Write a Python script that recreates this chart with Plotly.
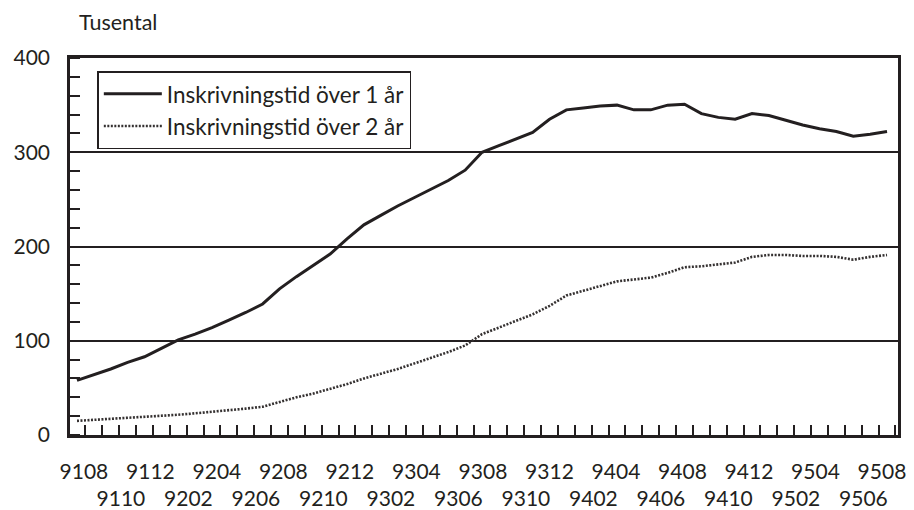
import plotly.graph_objects as go

months = ["9108","9109","9110","9111","9112","9201","9202","9203","9204","9205","9206","9207",
          "9208","9209","9210","9211","9212","9301","9302","9303","9304","9305","9306","9307",
          "9308","9309","9310","9311","9312","9401","9402","9403","9404","9405","9406","9407",
          "9408","9409","9410","9411","9412","9501","9502","9503","9504","9505","9506","9507","9508"]

over_1_ar = [58, 64, 70, 77, 83, 92, 101, 107, 114, 122, 130, 139,
             155, 168, 180, 192, 208, 223, 233, 243, 252, 261, 270, 281,
             300, 307, 314, 321, 335, 345, 347, 349, 350, 345, 345, 350,
             351, 341, 337, 335, 341, 339, 334, 329, 325, 322, 317, 319, 322]

over_2_ar = [15, 16, 17, 18, 19.5, 20.5, 21.5, 23, 24.5, 26, 28, 30,
             35, 40, 44, 49, 54, 60, 65, 70, 76, 82, 88, 95,
             107, 114, 121, 128, 137, 148, 153, 158, 163, 165, 167, 172,
             178, 179, 181, 183, 189, 191, 191, 190, 190, 189, 186, 189, 191]

series_names = ["Inskrivningstid över 1 år", "Inskrivningstid över 2 år"]
y_unit = "Tusental"
y_ticks = [0, 100, 200, 300, 400]

FONT = "Lato"
idx = list(range(len(months)))

fig = go.Figure()
fig.add_trace(go.Scatter(x=idx, y=over_1_ar, mode="lines", name=series_names[0],
                         line=dict(color="#231f20", width=3)))
fig.add_trace(go.Scatter(x=idx, y=over_2_ar, mode="lines", name=series_names[1],
                         line=dict(color="#353131", width=2.6, dash="2px,1.5px")))

# two staggered label rows (every 2nd month); small label-placement offsets as in the original
label_idx = idx[::2]
n_top = len(label_idx[::2])
tickvals, ticktext = [], []
for k, i in enumerate(label_idx):
    if k % 2 == 0:
        j = k // 2
        tickvals.append(i + 0.41 - 0.71 * j / (n_top - 1))
        ticktext.append(months[i])
    else:
        tickvals.append(i + 0.6)
        ticktext.append("<br>" + months[i])

# page body adds an 8px offset; figure is sized/margined to compensate
fig.update_layout(
    width=906, height=502,
    margin=dict(l=62, r=16, t=50, b=75, autoexpand=False),
    paper_bgcolor="white", plot_bgcolor="white",
    font=dict(family=FONT, color="#231f20", size=21),
    showlegend=True,
    legend=dict(x=0.033, y=0.965, xanchor="left", yanchor="top",
                bordercolor="#231f20", borderwidth=1.5, bgcolor="white",
                font=dict(size=22.5, family=FONT), itemwidth=58, tracegroupgap=0),
    annotations=[dict(text=y_unit, xref="paper", yref="paper", x=0.0085, y=1.095,
                      xanchor="left", yanchor="middle", showarrow=False,
                      font=dict(size=21.5, family=FONT))],
)

fig.update_xaxes(range=[-0.415, 48.65], tickmode="array", tickvals=tickvals, ticktext=ticktext,
                 tickangle=0, automargin=False,
                 ticks="", showgrid=False, zeroline=False,
                 showline=True, linecolor="#231f20", linewidth=2.5, mirror=True,
                 ticklabelstandoff=16,
                 minor=dict(tick0=0.5, dtick=1, ticks="inside", ticklen=10,
                            tickcolor="#231f20", tickwidth=1.5, showgrid=False))
fig.update_yaxes(range=[0, 400], tickmode="array", tickvals=y_ticks, automargin=False,
                 ticks="", showgrid=True, gridcolor="#231f20", gridwidth=1.5, zeroline=False,
                 showline=True, linecolor="#231f20", linewidth=2.5, mirror=True,
                 ticklabelstandoff=13,
                 minor=dict(dtick=20, tick0=0, ticks="inside", ticklen=10,
                            tickcolor="#231f20", tickwidth=1.5, showgrid=False))

fig.write_html("out.html")
